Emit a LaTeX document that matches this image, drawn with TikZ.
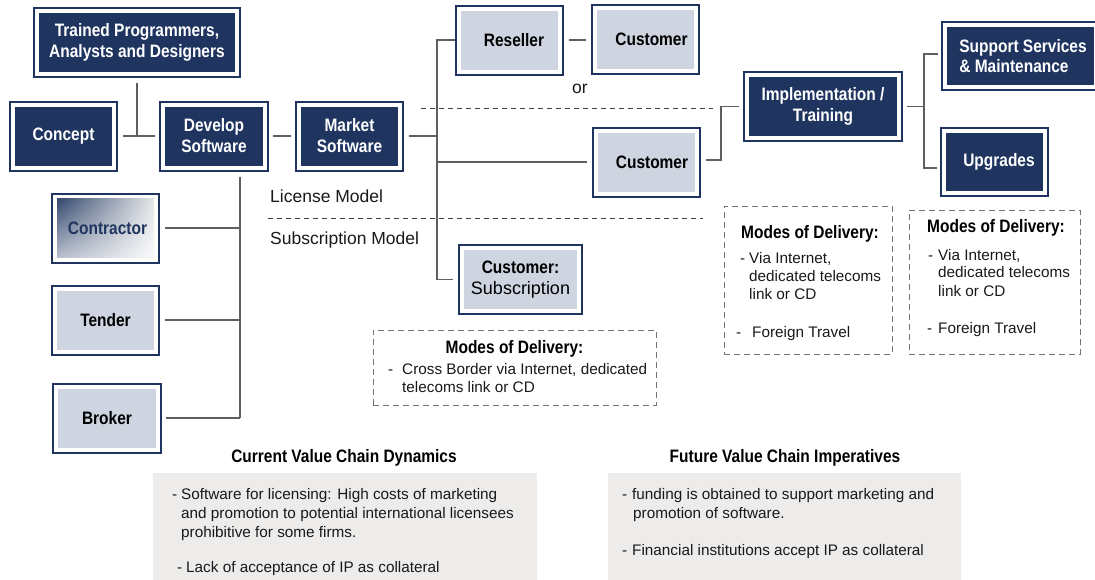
\documentclass[tikz,border=0pt]{standalone}
\usepackage{fontspec}
\setmainfont{Liberation Sans}
\newfontfamily\condf{Liberation Sans}[FakeStretch=0.86]
\usetikzlibrary{calc,shadings}
\definecolor{navy}{RGB}{31,53,96}
\definecolor{lightfill}{RGB}{206,212,224}
\definecolor{linegray}{RGB}{95,95,95}
\definecolor{dashgray}{RGB}{115,115,115}
\definecolor{notebg}{RGB}{237,236,234}
\definecolor{txt}{RGB}{25,25,25}
\tikzset{
  boxbase/.style={draw=navy, line width=2pt, fill=white, inner sep=0pt, align=center,
    minimum width=107pt, minimum height=69pt,
    font=\condf\bfseries\fontsize{18}{21}\selectfont},
  darkbox/.style={boxbase, text=white,
    path picture={\fill[navy] ([shift={(5pt,-5pt)}]path picture bounding box.north west) rectangle ([shift={(-5pt,5pt)}]path picture bounding box.south east);}},
  lightbox/.style={boxbase, text=black,
    path picture={\fill[lightfill] ([shift={(5pt,-5pt)}]path picture bounding box.north west) rectangle ([shift={(-5pt,5pt)}]path picture bounding box.south east);}},
  gradbox/.style={boxbase, text=navy,
    path picture={\shade[upper left=navy, upper right=black!7, lower left=navy!28, lower right=white] ([shift={(5pt,-5pt)}]path picture bounding box.north west) rectangle ([shift={(-5pt,5pt)}]path picture bounding box.south east);}},
  conn/.style={draw=linegray, line width=1.1pt},
  sepline/.style={draw=black!75, line width=0.9pt, dash pattern=on 5pt off 4pt},
  dbox/.style={draw=dashgray, line width=1pt, dash pattern=on 6pt off 4pt, inner sep=0pt},
  notebox/.style={fill=notebg, draw=none, inner sep=0pt},
  regtext/.style={inner sep=0pt, text=txt, font=\fontsize{17.5}{21}\selectfont},
  smalltext/.style={inner sep=0pt, text=txt, font=\fontsize{15.3}{19}\selectfont, anchor=base west},
  btitle/.style={inner sep=0pt, text=black, font=\condf\bfseries\fontsize{18}{21}\selectfont, anchor=base},
}
\begin{document}
\begin{tikzpicture}[x=1pt,y=-1pt]
\useasboundingbox (0,0) rectangle (1095,579);

% bottom note boxes
\node[notebox, minimum width=384pt, minimum height=112pt] (cur) at (345,529) {};
\node[notebox, minimum width=353pt, minimum height=112pt] (fut) at (784.5,529) {};

% main boxes
\node[darkbox, minimum width=206pt] (trained) at (137,42.5) {Trained Programmers,\\Analysts and Designers};
\node[darkbox] (concept) at (63.5,136) {Concept};
\node[darkbox, minimum width=108pt] (develop) at (214,136) {Develop\\Software};
\node[darkbox] (market) at (349.5,136) {Market\\Software};
\node[lightbox] (reseller) at (509.5,40) {\hspace*{9pt}Reseller};
\node[lightbox] (cust1) at (645.5,39) {\hspace*{12pt}Customer};
\node[lightbox] (cust2) at (646.5,162) {\hspace*{11pt}Customer};
\node[darkbox, minimum width=158pt] (impl) at (823,106.5) {Implementation /\\Training};
\node[darkbox, minimum width=157pt, minimum height=68pt, align=left] (support) at (1020,56) {\hspace*{6pt}Support Services\\[-1pt]\hspace*{6pt}\& Maintenance};
\node[darkbox, minimum height=68pt] (upgrades) at (994.5,162) {\hspace*{9pt}Upgrades};
\node[lightbox, minimum width=123pt] (subs) at (520.5,279.5) {Customer:\\{\normalfont\fontsize{18}{21}\selectfont Subscription}};
\node[gradbox] (contractor) at (105.5,228) {\hspace*{4pt}Contractor};
\node[lightbox] (tender) at (105.5,320) {Tender};
\node[lightbox, minimum width=108pt] (broker) at (107,418) {Broker};

% connectors
\coordinate (dbus) at (240,418);
\coordinate (mbus) at (437,136);
\coordinate (ibend) at (721,0);
\coordinate (sbus) at (924,106.5);

\draw[conn, shorten <=5pt] (trained.south) -- (trained.south |- concept.east);
\draw[conn, shorten <=5pt, shorten >=4pt] (concept.east) -- (develop.west);
\draw[conn, shorten <=4pt, shorten >=4pt] (develop.east) -- (market.west);
\draw[conn, shorten <=5pt] (develop.south -| dbus) -- (dbus);
\draw[conn, shorten <=5pt] (contractor.east) -- (contractor.east -| dbus);
\draw[conn, shorten <=5pt] (tender.east) -- (tender.east -| dbus);
\draw[conn, shorten <=4pt] (broker.east) -- (dbus);

\draw[conn, shorten <=5pt] (market.east) -- (mbus);
\draw[conn, shorten >=5pt] (reseller.west) -- (mbus |- reseller.west) -- (mbus |- subs.west) -- (subs.west);
\draw[conn, shorten >=5pt] (mbus |- cust2.west) -- (cust2.west);
\draw[conn, shorten <=5pt, shorten >=5pt] (reseller.east) -- (reseller.east -| cust1.west);
\draw[conn, shorten <=5pt, shorten >=4pt] ([yshift=2pt]cust2.east) -- ([yshift=2pt]cust2.east -| ibend) |- (impl.west);
\draw[conn, shorten <=4pt] (impl.east) -- (sbus);
\draw[conn, shorten <=3pt, shorten >=3pt] ([yshift=2pt]support.west) -- ([yshift=2pt]support.west -| sbus) -- ([yshift=-6pt]upgrades.west -| sbus) -- ([yshift=-6pt]upgrades.west);

% separator lines
\coordinate (sepAa) at (421,108);
\coordinate (sepAb) at (713,108);
\coordinate (sepBa) at (268,218);
\coordinate (sepBb) at (703,218);
\draw[sepline] (sepAa) -- (sepAb);
\draw[sepline] (sepBa) -- (sepBb);

\node[regtext, anchor=base] (ortext) at (580,93) {or};
\node[regtext, anchor=base west] (lic) at (270,202) {License Model};
\node[regtext, anchor=base west] (subm) at (270,244) {Subscription Model};

% modes of delivery boxes
\node[dbox, minimum width=283pt, minimum height=75pt] (mod1) at (514.5,367.5) {};
\node[btitle] (mod1t) at (514.5,353) {Modes of Delivery:};
\node[smalltext] (mod1d) at (388,374) {-};
\node[smalltext] (mod1a) at (402,374) {Cross Border via Internet, dedicated};
\node[smalltext] (mod1b) at (402,392) {telecoms link or CD};

\node[dbox, minimum width=168pt, minimum height=148pt] (mod2) at (808,280) {};
\node[btitle] (mod2t) at (810,238) {Modes of Delivery:};
\node[smalltext] (mod2d1) at (740,263) {-};
\node[smalltext] (mod2a) at (749,263) {Via Internet,};
\node[smalltext] (mod2b) at (749,281) {dedicated telecoms};
\node[smalltext] (mod2c) at (749,299) {link or CD};
\node[smalltext] (mod2d2) at (736,337) {-};
\node[smalltext] (mod2e) at (752,337) {Foreign Travel};

\node[dbox, minimum width=171pt, minimum height=144pt] (mod3) at (994.5,282) {};
\node[btitle] (mod3t) at (996,232) {Modes of Delivery:};
\node[smalltext] (mod3d1) at (928,260) {-};
\node[smalltext] (mod3a) at (938,260) {Via Internet,};
\node[smalltext] (mod3b) at (938,277) {dedicated telecoms};
\node[smalltext] (mod3c) at (938,296) {link or CD};
\node[smalltext] (mod3d2) at (927,333) {-};
\node[smalltext] (mod3e) at (938,333) {Foreign Travel};

% bottom texts
\node[btitle] (curt) at (344,462) {Current Value Chain Dynamics};
\node[smalltext] (curd1) at (172,499) {-};
\node[smalltext] (cura) at (181,499) {Software for licensing: High costs of marketing};
\node[smalltext] (curb) at (181,518) {and promotion to potential international licensees};
\node[smalltext] (curc) at (181,537) {prohibitive for some firms.};
\node[smalltext] (curd2) at (177,572) {-};
\node[smalltext] (curd) at (186,572) {Lack of acceptance of IP as collateral};

\node[btitle] (futt) at (785,462) {Future Value Chain Imperatives};
\node[smalltext] (futd1) at (622,499) {-};
\node[smalltext] (futa) at (632,499) {funding is obtained to support marketing and};
\node[smalltext] (futb) at (633,518) {promotion of software.};
\node[smalltext] (futd2) at (622,555) {-};
\node[smalltext] (futc) at (632,555) {Financial institutions accept IP as collateral};
\end{tikzpicture}
\end{document}
